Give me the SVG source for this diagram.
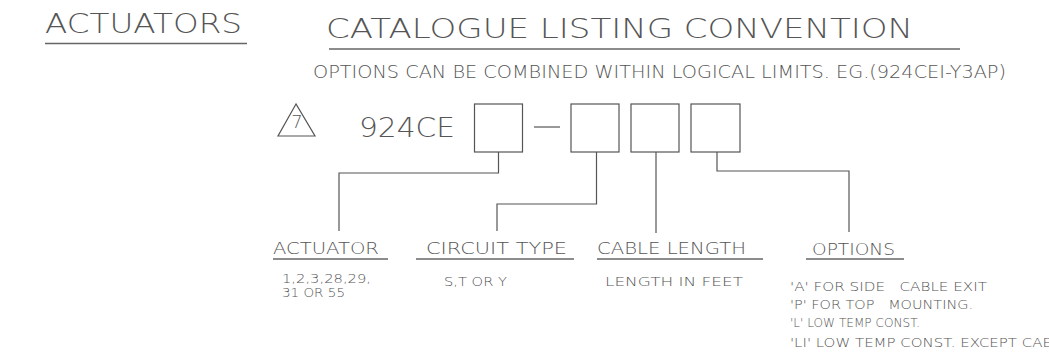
<svg xmlns="http://www.w3.org/2000/svg" width="1049" height="361" viewBox="0 0 1049 361">
<style>
text{font-family:"DejaVu Sans","Liberation Sans",sans-serif;font-weight:200;fill:#555}
.ln{stroke:#555;stroke-width:1.2;fill:none}
.ul{stroke:#666;stroke-width:1.3}
</style>
<rect width="1049" height="361" fill="#fff"/>
<g id="title">
<text x="45" y="33" font-size="27" textLength="197" lengthAdjust="spacingAndGlyphs">ACTUATORS</text>
<line class="ul" x1="45" y1="43.5" x2="247" y2="43.5"/>
<text x="326" y="38" font-size="27" textLength="587" lengthAdjust="spacingAndGlyphs">CATALOGUE LISTING CONVENTION</text>
<line class="ul" x1="329" y1="49" x2="960" y2="49"/>
<text x="313" y="78" font-size="17" textLength="693" lengthAdjust="spacingAndGlyphs">OPTIONS CAN BE COMBINED WITHIN LOGICAL LIMITS. EG.(924CEI-Y3AP)</text>
</g>
<g id="rev-mark">
<polygon class="ln" points="296,104 278,136 315,136"/>
<text x="297" y="128" font-size="18" text-anchor="middle">7</text>
</g>
<g id="code">
<text x="359" y="137" font-size="27" textLength="96" lengthAdjust="spacingAndGlyphs">924CE</text>
<line class="ln" x1="534" y1="127" x2="560" y2="127"/>
</g>
<g id="box-actuator"><rect class="ln" x="474.5" y="104" width="48" height="48"/></g>
<g id="box-circuit"><rect class="ln" x="571" y="104" width="48" height="48"/></g>
<g id="box-cable"><rect class="ln" x="631" y="104" width="48" height="48"/></g>
<g id="box-options"><rect class="ln" x="691" y="104" width="49" height="48"/></g>
<g id="connectors">
<polyline class="ln" points="498.5,152 498.5,173 339,173 339,231"/>
<polyline class="ln" points="596.5,152 596.5,204 497,204 497,231"/>
<polyline class="ln" points="656,152 656,233"/>
<polyline class="ln" points="717,152 717,171 849,171 849,232"/>
</g>
<g id="label-actuator">
<text x="273" y="254" font-size="16.5" textLength="106" lengthAdjust="spacingAndGlyphs">ACTUATOR</text>
<line class="ul" x1="273" y1="259" x2="388" y2="259"/>
<text x="282" y="283" font-size="11.5" textLength="89" lengthAdjust="spacingAndGlyphs">1,2,3,28,29,</text>
<text x="282" y="297" font-size="11.5" textLength="63" lengthAdjust="spacingAndGlyphs">31 OR 55</text>
</g>
<g id="label-circuit">
<text x="426" y="254" font-size="16.5" textLength="141" lengthAdjust="spacingAndGlyphs">CIRCUIT TYPE</text>
<line class="ul" x1="416" y1="259" x2="574" y2="259"/>
<text x="444" y="286" font-size="13" textLength="63" lengthAdjust="spacingAndGlyphs">S,T OR Y</text>
</g>
<g id="label-cable">
<text x="597" y="254" font-size="16.5" textLength="149" lengthAdjust="spacingAndGlyphs">CABLE LENGTH</text>
<line class="ul" x1="597" y1="259" x2="763" y2="259"/>
<text x="605" y="286" font-size="13" textLength="138" lengthAdjust="spacingAndGlyphs">LENGTH IN FEET</text>
</g>
<g id="label-options">
<text x="812" y="255" font-size="16.5" textLength="83" lengthAdjust="spacingAndGlyphs">OPTIONS</text>
<line class="ul" x1="806" y1="259" x2="904" y2="259"/>
<text x="790" y="291" font-size="12.5" xml:space="preserve" textLength="197" lengthAdjust="spacingAndGlyphs">'A' FOR SIDE   CABLE EXIT</text>
<text x="790" y="309" font-size="12.5" xml:space="preserve" textLength="183" lengthAdjust="spacingAndGlyphs">'P' FOR TOP   MOUNTING.</text>
<text x="790" y="327" font-size="13" textLength="130" lengthAdjust="spacingAndGlyphs">'L' LOW TEMP CONST.</text>
<text x="790" y="347" font-size="12.5" textLength="262" lengthAdjust="spacingAndGlyphs">'LI' LOW TEMP CONST. EXCEPT CAE</text>
</g>
</svg>
